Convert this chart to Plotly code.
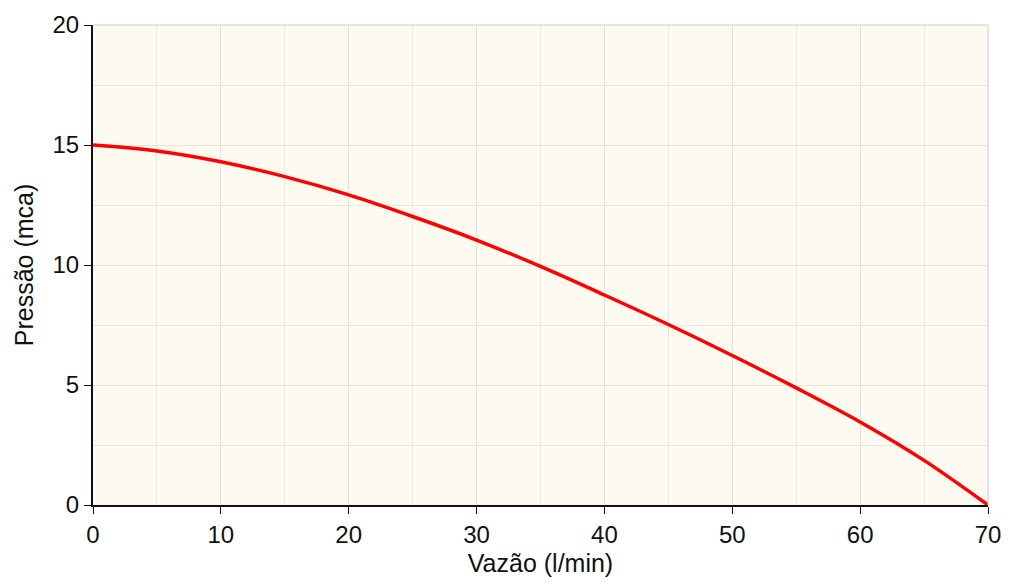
import plotly.graph_objects as go

# curva da bomba: vazão (l/min) x pressão (mca)
vazao = [0, 5, 10, 15, 20, 25, 30, 35, 40, 45, 50, 55, 60, 65, 70]
pressao = [15.0, 14.75, 14.3, 13.68, 12.92, 12.02, 11.04, 9.94, 8.75, 7.52, 6.23, 4.88, 3.46, 1.86, 0.0]

fig = go.Figure()
fig.add_trace(go.Scatter(
    x=vazao,
    y=pressao,
    mode='lines',
    line=dict(color='#ff0000', width=3.5, shape='spline', smoothing=1.0),
    showlegend=False,
))

# a página tem 8px de margem no body: figura um pouco menor que a janela
fig.update_layout(
    width=1008,
    height=570,
    paper_bgcolor='white',
    plot_bgcolor='#fdfaf2',
    font=dict(family='Liberation Sans, Arial, sans-serif', size=24, color='#111111'),
    margin=dict(l=85, r=28, t=17, b=73, autoexpand=False),
)

fig.update_xaxes(
    title=dict(text='Vazão (l/min)', font=dict(size=25), standoff=8),
    automargin=False,
    range=[0, 70],
    tickvals=[0, 10, 20, 30, 40, 50, 60, 70],
    ticks='outside', ticklen=7, tickcolor='#111111',
    showline=True, linecolor='#111111', linewidth=2,
    showgrid=True, gridcolor='#e8e4dc', gridwidth=1,
    minor=dict(dtick=5, showgrid=True, gridcolor='#ece8e0', gridwidth=1),
    zeroline=False,
)
fig.update_yaxes(
    title=dict(text='Pressão (mca)', font=dict(size=25), standoff=12),
    automargin=False,
    range=[0, 20],
    tickvals=[0, 5, 10, 15, 20],
    ticks='outside', ticklen=7, tickcolor='#111111',
    showline=True, linecolor='#111111', linewidth=2,
    showgrid=True, gridcolor='#e8e4dc', gridwidth=1,
    minor=dict(dtick=2.5, showgrid=True, gridcolor='#ece8e0', gridwidth=1),
    zeroline=False,
)

# borda superior e direita em cinza claro
fig.add_shape(type='line', xref='paper', yref='paper', x0=0, x1=1, y0=1, y1=1,
              line=dict(color='#cccccc', width=1))
fig.add_shape(type='line', xref='paper', yref='paper', x0=1, x1=1, y0=0, y1=1,
              line=dict(color='#cccccc', width=1))

fig.write_html("out.html")
